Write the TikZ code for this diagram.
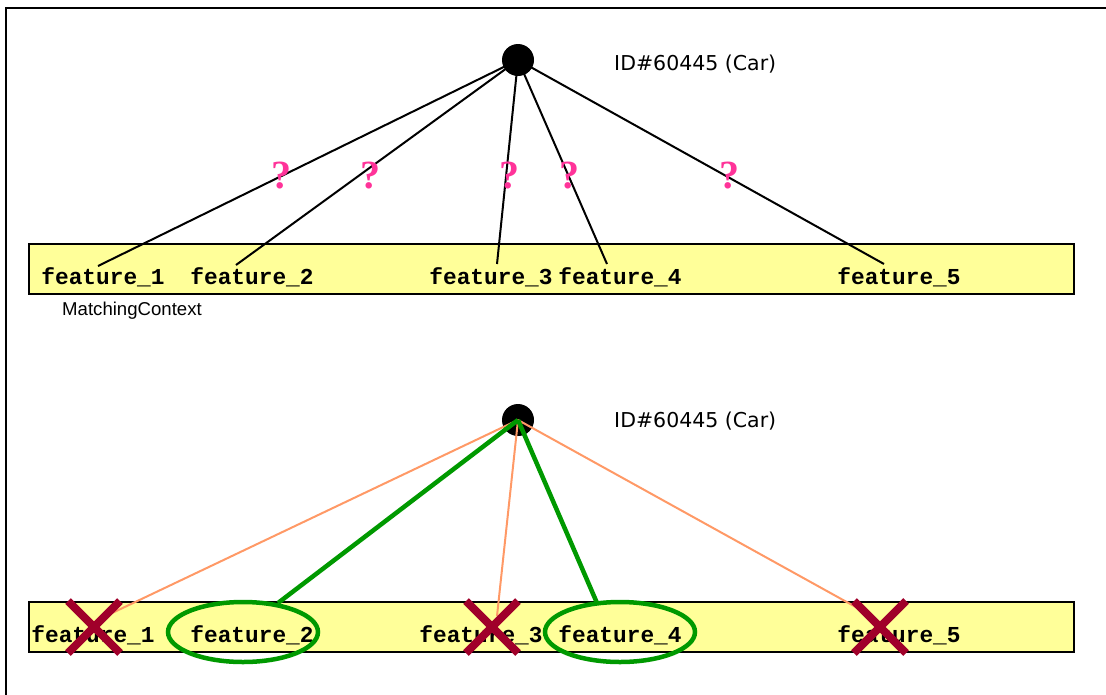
\documentclass[tikz,border=0pt]{standalone}
\usepackage{fontspec}
\setmainfont{Liberation Sans}
\newfontfamily\featfont{Liberation Mono}
\newfontfamily\idfont{DejaVu Sans}
\newfontfamily\qfont{Liberation Serif}
\definecolor{boxfill}{HTML}{FFFF99}
\definecolor{qpink}{HTML}{FF3399}
\definecolor{orangeline}{HTML}{FF9966}
\definecolor{okgreen}{HTML}{009900}
\definecolor{xred}{HTML}{A0002A}
\tikzset{
  root/.style={circle,fill=black,inner sep=0pt,minimum size=32pt},
  featbox/.style={draw=black,line width=1.6pt,fill=boxfill},
  feat/.style={inner sep=0pt,font=\featfont\bfseries\fontsize{22.8}{24}\selectfont,anchor=center},
  idlab/.style={inner sep=0pt,anchor=west,font=\idfont\fontsize{20.5}{23}\selectfont},
  qmark/.style={inner sep=0pt,text=qpink,font=\qfont\bfseries\fontsize{40}{44}\selectfont},
  edge/.style={line width=2pt,black},
  weak/.style={line width=2pt,orangeline},
  strong/.style={line width=4.5pt,okgreen},
  ring/.style={draw=okgreen,line width=4.5pt},
  crossline/.style={line width=8pt,xred}
}
\begin{document}
\begin{tikzpicture}[x=1pt,y=-1pt]
\useasboundingbox (0,0) rectangle (1106,694);
% frame
\draw[line width=2pt] (6,700) -- (6,8) -- (1110,8);

% ---------- top part ----------
\draw[featbox] (29,244) rectangle (1074,294);
\node[feat] (t1) at (103,277) {feature\_1};
\node[feat] (t2) at (252,277) {feature\_2};
\node[feat] (t3) at (491,277) {feature\_3};
\node[feat] (t4) at (620,277) {feature\_4};
\node[feat] (t5) at (899,277) {feature\_5};
\node[inner sep=0pt,anchor=west,font=\fontsize{18.6}{20}\selectfont] (mc) at (62,311) {MatchingContext};

\node[root] (top) at (518,60) {};
\node[idlab] (topid) at (614,64) {ID\#60445 (Car)};

\coordinate (te1) at (98,266);
\coordinate (te2) at (236,265);
\coordinate (te3) at (497,264);
\coordinate (te4) at (607,264);
\coordinate (te5) at (884,264);
\foreach \i in {1,...,5} \draw[edge] (top.center) -- (te\i);

\node[qmark] (q1) at (281,176) {?};
\node[qmark] (q2) at (370,176) {?};
\node[qmark] (q3) at (509,176) {?};
\node[qmark] (q4) at (569,176) {?};
\node[qmark] (q5) at (729,176) {?};

% ---------- bottom part ----------
\draw[featbox] (29,602) rectangle (1074,652);
\node[feat] (b1) at (93,635) {feature\_1};
\node[feat] (b2) at (252,635) {feature\_2};
\node[feat] (b3) at (481,635) {feature\_3};
\node[feat] (b4) at (620,635) {feature\_4};
\node[feat] (b5) at (899,635) {feature\_5};

\node[root] (bot) at (518,420) {};
\node[idlab] (botid) at (614,421) {ID\#60445 (Car)};

\coordinate (be1) at (110,614);
\coordinate (be3) at (497,616);
\coordinate (be5) at (872,616);
\draw[weak] (bot.center) -- (be1);
\draw[weak] (bot.center) -- (be3);
\draw[weak] (bot.center) -- (be5);

\draw[ring] (243,632) ellipse [x radius=75, y radius=30];
\draw[ring] (620,632) ellipse [x radius=75, y radius=30];
\coordinate (ge2) at (278,603);
\coordinate (ge4) at (597,603);
\draw[strong] (bot.center) -- (ge2);
\draw[strong] (bot.center) -- (ge4);

\foreach \cx in {94,492,880} {
  \draw[crossline] (\cx-26,601) -- (\cx+26,653);
  \draw[crossline] (\cx+26,601) -- (\cx-26,653);
}
\end{tikzpicture}
\end{document}
